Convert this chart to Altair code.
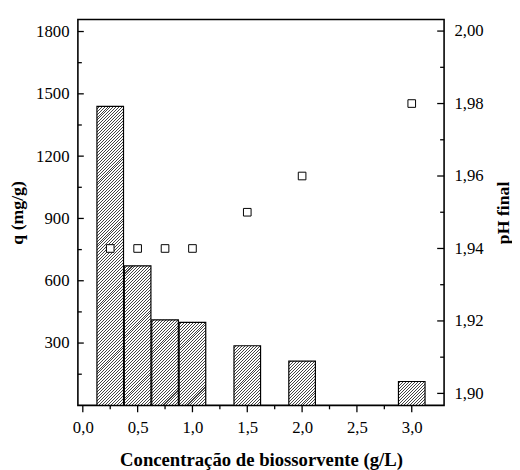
import math
import altair as alt
import pandas as pd

# ---- data ----
conc = [0.25, 0.5, 0.75, 1.0, 1.5, 2.0, 3.0]
q_vals = [1440, 672, 412, 400, 287, 213, 115]
ph_vals = [1.94, 1.94, 1.94, 1.94, 1.95, 1.96, 1.98]

x_major = [0.0, 0.5, 1.0, 1.5, 2.0, 2.5, 3.0]
x_minor = [0.25, 0.75, 1.25, 1.75, 2.25, 2.75]
q_major = [300, 600, 900, 1200, 1500, 1800]
q_minor = [150, 450, 750, 1050, 1350, 1650]
ph_major = [1.90, 1.92, 1.94, 1.96, 1.98, 2.00]
ph_minor = [1.91, 1.93, 1.95, 1.97, 1.99]

# ---- layout / style ----
W, H = 372, 392
X_DOM = [0, 3.25]
Q_DOM = [0, 1858]
PH_DOM = [1.8967, 2.0032]
BAR_W = 27
FONT = "'Liberation Serif', 'Times New Roman', 'DejaVu Serif', serif"
LBL = 17
TTL = 18

xscale = alt.Scale(domain=X_DOM, nice=False, zero=False)
qscale = alt.Scale(domain=Q_DOM, nice=False)
phscale = alt.Scale(domain=PH_DOM, nice=False, zero=False)

x_axis = alt.Axis(
    orient="bottom", values=x_major, ticks=False, tickSize=0, domain=False, grid=False,
    labelExpr="replace(format(datum.value, '.1f'), '.', ',')",
    labelFont=FONT, labelFontSize=LBL, labelColor="black", labelPadding=15,
    title="Concentração de biossorvente (g/L)", titleFont=FONT, titleFontSize=19,
    titleFontWeight="bold", titleColor="black", titlePadding=15,
)
q_axis = alt.Axis(
    orient="left", values=q_major, ticks=False, tickSize=0, domain=False, grid=False,
    format="d",
    labelFont=FONT, labelFontSize=LBL, labelColor="black", labelPadding=9,
    title="q (mg/g)", titleFont=FONT, titleFontSize=TTL, titleFontWeight="bold",
    titleColor="black", titlePadding=9,
)
ph_axis = alt.Axis(
    orient="right", values=ph_major, ticks=False, tickSize=0, domain=False, grid=False,
    labelExpr="replace(format(datum.value, '.2f'), '.', ',')",
    labelFont=FONT, labelFontSize=LBL, labelColor="black", labelPadding=10,
    title="pH final", titleFont=FONT, titleFontSize=TTL, titleFontWeight="bold",
    titleColor="black", titlePadding=12, titleAngle=270, titleBaseline="top",
)

X = alt.X("c:Q", scale=xscale, axis=x_axis)
YQ = alt.Y("q:Q", scale=qscale, axis=q_axis)
YPH = alt.Y("ph:Q", scale=phscale, axis=ph_axis)

df = pd.DataFrame({"c": conc, "q": q_vals, "ph": ph_vals})


def hatch(w, h, period=3.0, frac=0.34):
    """Diagonal '/' hatch as a hard-stop linear gradient for a w x h px box."""
    s = w + h
    x2 = s * w / (w * w + h * h)
    y2 = s * h / (w * w + h * h)
    pt = period / s
    stops = []
    n = int(math.ceil(1.0 / pt))
    for i in range(n):
        o = i * pt
        a = min(o + (1 - frac) * pt, 1.0)
        b = min(o + pt, 1.0)
        stops += [
            alt.GradientStop(color="white", offset=min(o, 1.0)),
            alt.GradientStop(color="white", offset=a),
            alt.GradientStop(color="#444444", offset=a),
            alt.GradientStop(color="#444444", offset=b),
        ]
        if b >= 1.0:
            break
    return alt.LinearGradient(gradient="linear", stops=stops, x1=0, y1=0, x2=x2, y2=y2)


bar_layers = []
for cv, qv in zip(conc, q_vals):
    h = qv * H / Q_DOM[1]
    bar_layers.append(
        alt.Chart(df)
        .transform_filter(alt.datum.c == cv)
        .mark_bar(width=BAR_W, fill=hatch(BAR_W, h), stroke="black", strokeWidth=1.2)
        .encode(x=X, y=YQ)
    )

xt_major = alt.Chart(pd.DataFrame({"c": x_major})).mark_rule(color="black", strokeWidth=1.3).encode(
    x=X, y=alt.value(H), y2=alt.value(H + 7))
xt_minor = alt.Chart(pd.DataFrame({"c": x_minor})).mark_rule(color="black", strokeWidth=1.3).encode(
    x=X, y=alt.value(H), y2=alt.value(H + 4))
qt_major = alt.Chart(pd.DataFrame({"q": q_major})).mark_rule(color="black", strokeWidth=1.3).encode(
    y=YQ, x=alt.value(0), x2=alt.value(6))
qt_minor = alt.Chart(pd.DataFrame({"q": q_minor})).mark_rule(color="black", strokeWidth=1.3).encode(
    y=YQ, x=alt.value(0), x2=alt.value(4))

left = alt.layer(*bar_layers, qt_major, qt_minor, xt_major, xt_minor)

pts = alt.Chart(df).mark_square(size=60, fill="white", stroke="black", strokeWidth=1, opacity=1).encode(
    x=X, y=YPH)
pt_major = alt.Chart(pd.DataFrame({"ph": ph_major})).mark_rule(color="black", strokeWidth=1.3).encode(
    y=YPH, x=alt.value(W - 7), x2=alt.value(W))
pt_minor = alt.Chart(pd.DataFrame({"ph": ph_minor})).mark_rule(color="black", strokeWidth=1.3).encode(
    y=YPH, x=alt.value(W - 4), x2=alt.value(W))

right = alt.layer(pts, pt_major, pt_minor)

chart = (
    alt.layer(left, right)
    .resolve_scale(y="independent")
    .properties(
        width=W, height=H,
        autosize=alt.AutoSizeParams(type="none"),
        padding={"left": 71, "top": 8, "right": 69, "bottom": 62},
        background="white",
    )
    .configure(font=FONT)
    .configure_view(stroke="black", strokeWidth=1.6)
)

chart.save("out.html", embed_options={"renderer": "svg", "actions": False})
